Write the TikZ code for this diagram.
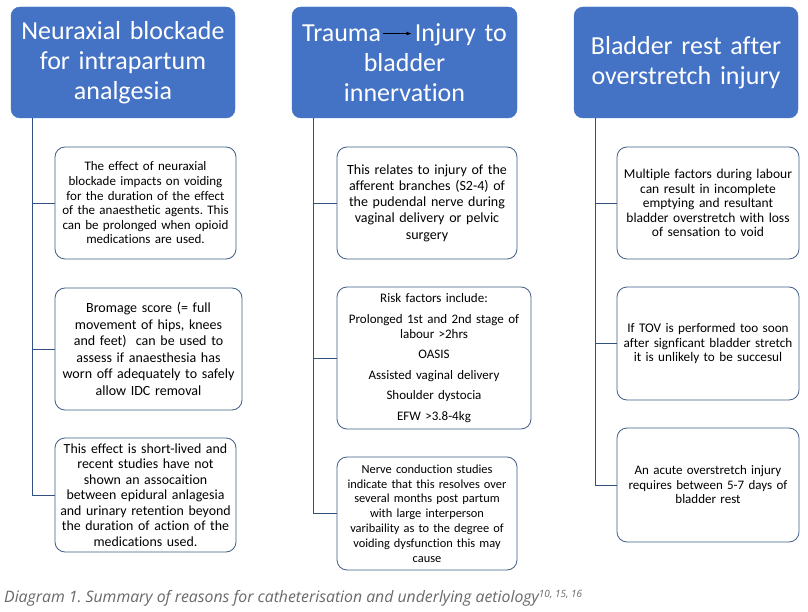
\documentclass[tikz,border=0pt]{standalone}
\usepackage{fontspec}
\setmainfont{Carlito}[Ligatures={NoCommon}]
\newfontfamily\captionfont{Open Sans}[Ligatures={NoCommon}]
\usetikzlibrary{arrows.meta}
\frenchspacing
\definecolor{headblue}{RGB}{68,114,196}
\definecolor{boxline}{RGB}{65,95,135}
\definecolor{linkblue}{RGB}{50,80,130}
\definecolor{captiongray}{RGB}{105,105,105}
\tikzset{
  header/.style={rounded corners=9pt, fill=headblue, draw=headblue, text=white, align=center,
    font=\fontsize{26}{30}\selectfont, inner sep=0pt},
  infobox/.style={rounded corners=10pt, draw=boxline, line width=0.8pt, fill=white, align=center,
    inner sep=0pt}
}
\tikzset{link/.style={draw=linkblue, line width=0.9pt}}
\begin{document}
\begin{tikzpicture}[x=1pt,y=-1pt]
\useasboundingbox[fill=white] (0,0) rectangle (808,612);
% headers
\node[header, minimum width=224pt, minimum height=111pt, text width=220pt] (h1) at (123,62.5)
  {Neuraxial blockade\\for intrapartum\\analgesia};
\node[header, minimum width=225pt, minimum height=111pt, text width=222pt] (h2) at (404.5,62.5)
  {Trauma\kern1pt\tikz[baseline]\draw[black, line width=0.8pt, -{Latex[length=5pt,width=4pt]}] (0,0.3em) -- (29pt,0.3em);\kern3pt Injury to\\bladder\\innervation};
\node[header, minimum width=224pt, minimum height=111pt, text width=220pt] (h3) at (686,62.5)
  {Bladder rest after\\overstretch injury};
% column 1
\node[infobox, minimum width=181pt, minimum height=112pt, text width=178pt,
  font=\fontsize{13}{14.6}\selectfont] (b11) at (145.5,203)
  {The effect of neuraxial\\blockade impacts on voiding\\for the duration of the effect\\of the anaesthetic agents. This\\can be prolonged when opioid\\medications are used.};
\node[infobox, minimum width=187pt, minimum height=122pt, text width=184pt,
  font=\fontsize{14}{16.5}\selectfont] (b12) at (148.5,349)
  {Bromage score (= full\\movement of hips, knees\\and feet)\ \ can be used to\\assess if anaesthesia has\\worn off adequately to safely\\allow IDC removal};
\node[infobox, minimum width=181pt, minimum height=114pt, text width=178pt,
  font=\fontsize{13.9}{15.5}\selectfont] (b13) at (145.5,495)
  {This effect is short-lived and\\recent studies have not\\shown an assocaition\\between epidural anlagesia\\and urinary retention beyond\\the duration of action of the\\medications used.};
% column 2
\node[infobox, minimum width=180pt, minimum height=112pt, text width=177pt,
  font=\fontsize{14}{16.3}\selectfont] (b21) at (427,203)
  {This relates to injury of the\\afferent branches (S2-4) of\\the pudendal nerve during\\vaginal delivery or pelvic\\surgery};
\node[infobox, minimum width=194pt, minimum height=142pt, text width=190pt,
  font=\fontsize{13}{15}\selectfont] (b22) at (434,358)
  {Risk factors include:\\[5.5pt]Prolonged 1st and 2nd stage of\\labour >2hrs\\[5.5pt]OASIS\\[5.5pt]Assisted vaginal delivery\\[5.5pt]Shoulder dystocia\\[5.5pt]EFW >3.8-4kg};
\node[infobox, minimum width=180pt, minimum height=113pt, text width=177pt,
  font=\fontsize{12.4}{14.8}\selectfont] (b23) at (427,513.5)
  {Nerve conduction studies\\indicate that this resolves over\\several months post partum\\with large interperson\\varibaility as to the degree of\\voiding dysfunction this may\\cause};
% column 3
\node[infobox, minimum width=182pt, minimum height=112pt, text width=179pt,
  font=\fontsize{13.5}{14.5}\selectfont] (b31) at (708,203)
  {Multiple factors during labour\\can result in incomplete\\emptying and resultant\\bladder overstretch with loss\\of sensation to void};
\node[infobox, minimum width=182pt, minimum height=113pt, text width=179pt,
  font=\fontsize{13.2}{14.6}\selectfont] (b32) at (708,343.5)
  {If TOV is performed too soon\\after signficant bladder stretch\\it is unlikely to be succesul};
\node[infobox, minimum width=182pt, minimum height=114pt, text width=179pt,
  font=\fontsize{13}{14.5}\selectfont] (b33) at (708,485)
  {An acute overstretch injury\\requires between 5-7 days of\\bladder rest};
% connectors
\foreach \col in {1,2,3}{
  \foreach \row in {1,2,3}{
    \draw[link] ([xshift=22pt]h\col.south west) |- (b\col\row.west);
  }
}
% caption
\node[anchor=west, inner sep=0pt, text=captiongray, font=\captionfont\itshape\fontsize{15.8}{17}\selectfont] (cap) at (4,598)
  {Diagram 1. Summary of reasons for catheterisation and underlying aetiology\textsuperscript{\fontsize{10}{11}\selectfont 10, 15, 16}};
\end{tikzpicture}
\end{document}
